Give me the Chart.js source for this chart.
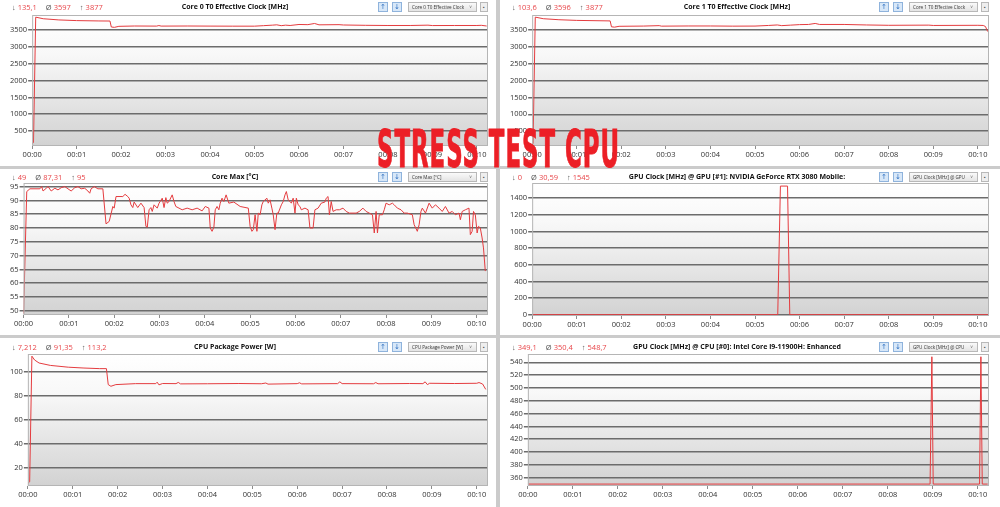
<!DOCTYPE html>
<html>
<head>
<meta charset="utf-8">
<title>Stress Test CPU</title>
<script src="https://cdn.jsdelivr.net/npm/chart.js@4.4.1/dist/chart.umd.min.js"></script>
<style>
html, body { margin: 0; padding: 0; }
body { width: 1000px; height: 507px; background: #cbcbcb; position: relative; overflow: hidden; font-family: 'Open Sans', sans-serif; }
.panel { position: absolute; background: #fff; }
.panel canvas { position: absolute; left: 0; top: 0; }
.stats { position: absolute; left: 12px; font-size: 7.5px; line-height: 10px; color: #e8464a; white-space: nowrap; }
.stats i { font-style: normal; color: #555; margin-right: 2px; }
.stats span { margin-right: 9px; }
.title { position: absolute; left: 0; text-align: center; font-weight: 700; font-size: 7px; line-height: 10px; color: #111; white-space: nowrap; }
.btn { position: absolute; width: 8px; height: 8px; border: 1px solid #8fb3dc; background: #d7e7f8; color: #2d6fc0; font: 7px/8px 'DejaVu Sans', sans-serif; text-align: center; }
.menu { position: absolute; width: 64px; height: 8px; border: 1px solid #b8b8b8; background: linear-gradient(#fafafa, #e4e4e4); font-size: 4.6px; line-height: 8px; color: #333; padding-left: 3px; white-space: nowrap; overflow: hidden; }
.menu b { position: absolute; right: 4px; top: 0; font-weight: 400; color: #666; }
.plus { position: absolute; width: 6px; height: 8px; border: 1px solid #b8b8b8; background: #eee; font: 5px/8px sans-serif; color: #555; text-align: center; }
#stamp { position: absolute; left: 377px; top: 124px; font: bold 51px/51px 'Liberation Sans Narrow', 'DejaVu Sans Condensed', sans-serif; letter-spacing: 2px; color: #ec1f26; -webkit-text-stroke: 0.9px #ec1f26; white-space: nowrap; transform-origin: 0 0; z-index: 5; }
</style>
</head>
<body>
<div id="stamp">STRESS TEST CPU</div>
<script>
// Time axis (minutes)
const timeTicks = [0, 1, 2, 3, 4, 5, 6, 7, 8, 9, 10];
const timeLabels = ['00:00', '00:01', '00:02', '00:03', '00:04', '00:05', '00:06', '00:07', '00:08', '00:09', '00:10'];
const timeEnd = 10.25;

// Value axes
const clockTicks = [500, 1000, 1500, 2000, 2500, 3000, 3500];
const tempTicks = [50, 55, 60, 65, 70, 75, 80, 85, 90, 95];
const gpuTicks = [0, 200, 400, 600, 800, 1000, 1200, 1400];
const powerTicks = [20, 40, 60, 80, 100];
const igpuTicks = [360, 380, 400, 420, 440, 460, 480, 500, 520, 540];

// Series: [minute, value]
const core0Clock = [[0,135],[0.03,160],[0.08,3877],[0.25,3830],[0.6,3795],[1.0,3775],[1.5,3765],[1.75,3762],[1.78,3585],[1.85,3575],[1.95,3605],[2.3,3615],[2.8,3612],[2.85,3628],[2.9,3612],[3.5,3615],[4.0,3612],[4.5,3610],[5.0,3610],[5.2,3625],[5.4,3640],[5.5,3650],[5.6,3625],[5.7,3640],[5.8,3630],[6.0,3660],[6.2,3655],[6.35,3690],[6.45,3650],[6.9,3655],[7.0,3645],[7.5,3635],[8.0,3630],[8.5,3630],[8.9,3640],[9.0,3628],[9.5,3630],[10.0,3630],[10.1,3635],[10.22,3615]];

const core1Clock = [[0,104],[0.02,130],[0.07,3877],[0.25,3830],[0.6,3800],[1.0,3780],[1.5,3770],[1.75,3765],[1.78,3590],[1.85,3580],[1.95,3605],[2.5,3612],[2.85,3625],[2.9,3610],[3.5,3615],[4.0,3615],[4.5,3610],[5.0,3612],[5.3,3630],[5.5,3645],[5.6,3625],[5.8,3640],[6.0,3655],[6.2,3660],[6.35,3690],[6.45,3660],[7.0,3660],[7.5,3645],[8.0,3635],[8.9,3640],[9.0,3630],[10.0,3635],[10.12,3630],[10.17,3600],[10.22,3450]];

const coreMaxTemp = [[0,49],[0.07,93.2],[0.14,94.2],[0.36,94.2],[0.4,95],[0.43,93.4],[0.5,94.4],[0.54,95],[0.61,93.4],[0.69,94.4],[0.76,93.8],[0.83,94.6],[0.91,95],[0.98,94.2],[1.05,93.4],[1.13,94.6],[1.2,95],[1.27,94.2],[1.35,94.4],[1.42,93.4],[1.46,92.6],[1.49,94.2],[1.56,95],[1.64,94.2],[1.75,94.2],[1.82,81.5],[1.89,82.4],[1.97,87.8],[2.0,87.2],[2.04,91.4],[2.19,91.4],[2.24,92.2],[2.3,91.4],[2.33,90.8],[2.37,88.4],[2.41,87.4],[2.44,89.4],[2.52,87.4],[2.59,89],[2.66,87.4],[2.7,80.6],[2.73,80.3],[2.77,86.6],[2.81,87.4],[2.84,86],[2.88,88.4],[2.95,87.2],[2.99,89],[3.06,90.8],[3.1,87.4],[3.14,91],[3.17,89],[3.21,89.6],[3.28,92],[3.32,89.6],[3.36,87.8],[3.43,87.2],[3.5,86.6],[3.61,87.2],[3.72,86.6],[3.83,87.2],[3.94,86.2],[4.01,87.8],[4.09,87.2],[4.12,80],[4.16,78.8],[4.2,80.3],[4.23,86.6],[4.27,87.8],[4.31,86.6],[4.34,89],[4.38,90.8],[4.42,89.6],[4.47,92],[4.53,89],[4.64,89.4],[4.78,87.8],[4.96,87.2],[5.0,80.6],[5.04,78.8],[5.07,79.4],[5.11,84.8],[5.15,78.8],[5.18,85.4],[5.22,84.8],[5.26,88.4],[5.29,89.6],[5.37,90.8],[5.4,89],[5.44,90.2],[5.48,87.2],[5.51,84.8],[5.55,79.4],[5.59,85.4],[5.62,85.4],[5.69,88.4],[5.73,89.6],[5.77,92],[5.8,93.2],[5.84,90.2],[5.88,89.6],[5.91,89],[5.95,90.8],[5.99,85.4],[6.02,90.8],[6.06,88.4],[6.1,87.8],[6.13,86.6],[6.21,87.2],[6.28,86.6],[6.32,80],[6.39,80],[6.43,86.6],[6.5,87.2],[6.57,89],[6.65,89.4],[6.68,90.8],[6.72,91.4],[6.75,84.8],[6.79,89.6],[6.83,86],[6.9,86.6],[6.97,86.6],[7.05,87.2],[7.12,86],[7.19,85.4],[7.34,85.4],[7.41,86],[7.49,87.2],[7.56,86],[7.63,85.4],[7.7,84.8],[7.74,78.2],[7.78,86],[7.81,78.2],[7.85,84.8],[7.92,84.8],[7.96,86.6],[8.0,89],[8.07,88.4],[8.14,89],[8.18,88.4],[8.25,87.2],[8.33,86.6],[8.4,85.4],[8.47,85.4],[8.58,84.8],[8.62,81.2],[8.69,78.8],[8.73,81.2],[8.77,86],[8.8,87.2],[8.87,85.4],[8.95,89],[9.02,87.2],[9.09,88.4],[9.17,87.2],[9.24,86],[9.31,87.8],[9.39,85.4],[9.46,86],[9.53,84.8],[9.61,85.4],[9.64,83],[9.68,86],[9.75,86.6],[9.83,87.2],[9.86,77.6],[9.9,78.8],[9.93,86],[9.97,84.8],[10.01,78.2],[10.04,80.6],[10.08,80],[10.12,76.4],[10.15,72.8],[10.19,64.4]];

const gpuClock = [[0,0],[5.51,0],[5.57,1545],[5.73,1545],[5.78,0],[10.25,0]];

const packagePower = [[0,7.2],[0.04,8.5],[0.09,113.2],[0.15,110],[0.25,107.5],[0.5,105.5],[0.9,104],[1.25,103.3],[1.6,102.8],[1.75,102.8],[1.79,89.5],[1.85,88.1],[1.96,89.5],[2.4,90.3],[2.85,90.3],[2.88,91.5],[2.92,89.3],[3.0,90.4],[3.3,90.3],[3.35,91.3],[3.4,90.1],[4.0,90.2],[4.7,90.4],[5.2,90.2],[5.3,90.8],[5.35,89.9],[6.0,90.3],[6.05,91],[6.1,90.1],[6.9,90.3],[6.95,91.8],[7.0,90.3],[7.7,90.2],[7.75,91.2],[7.8,90.2],[8.5,90.4],[8.8,90.3],[8.85,91.8],[8.9,89.5],[8.95,90.6],[9.5,90.4],[10.0,90.6],[10.05,91.2],[10.13,90],[10.2,85.5]];

const igpuClock = [[0,350],[8.94,350],[8.98,548.7],[9.01,350],[10.04,350],[10.07,548.7],[10.1,350],[10.22,350]];

// Panel layout
const panels = [
  { title: 'Core 0 T0 Effective Clock [MHz]', menu: 'Core 0 T0 Effective Clock', stats: ['135,1', '3597', '3877'],
    series: core0Clock, yTicks: clockTicks, yMin: 59, yMax: 3941,
    box: [0, 0, 496, 166], headY: 7, plotTop: 15, plotBottom: 147, padLeft: 9, padRight: 8 },
  { title: 'Core 1 T0 Effective Clock [MHz]', menu: 'Core 1 T0 Effective Clock', stats: ['103,6', '3596', '3877'],
    series: core1Clock, yTicks: clockTicks, yMin: 60, yMax: 3940,
    box: [500, 0, 500, 166], headY: 7, plotTop: 15, plotBottom: 147, padLeft: 9, padRight: 11 },
  { title: 'Core Max [°C]', menu: 'Core Max [°C]', stats: ['49', '87,31', '95'],
    series: coreMaxTemp, yTicks: tempTicks, yMin: 48.5, yMax: 96.3,
    box: [0, 169, 496, 166], headY: 8, plotTop: 14, plotBottom: 147, padLeft: 9, padRight: 8 },
  { title: 'GPU Clock [MHz] @ GPU [#1]: NVIDIA GeForce RTX 3080 Mobile:', menu: 'GPU Clock [MHz] @ GPU', stats: ['0', '30,59', '1545'],
    series: gpuClock, yTicks: gpuTicks, yMin: -16, yMax: 1582,
    box: [500, 169, 500, 166], headY: 8, plotTop: 14, plotBottom: 148, padLeft: 9, padRight: 11 },
  { title: 'CPU Package Power [W]', menu: 'CPU Package Power [W]', stats: ['7,212', '91,35', '113,2'],
    series: packagePower, yTicks: powerTicks, yMin: 5, yMax: 115,
    box: [0, 338, 496, 169], headY: 9, plotTop: 16, plotBottom: 149, padLeft: 9, padRight: 8 },
  { title: 'GPU Clock [MHz] @ CPU [#0]: Intel Core i9-11900H: Enhanced', menu: 'GPU Clock [MHz] @ CPU', stats: ['349,1', '350,4', '548,7'],
    series: igpuClock, yTicks: igpuTicks, yMin: 347, yMax: 553,
    box: [500, 338, 500, 169], headY: 9, plotTop: 16, plotBottom: 149, padLeft: 9, padRight: 11 }
];

const tickFont = { family: "'Open Sans', sans-serif", size: 7.5 };

// gradient plot background + light frame
const plotFrame = {
  id: 'plotFrame',
  beforeDraw(chart) {
    const { ctx, chartArea: a } = chart;
    const g = ctx.createLinearGradient(0, a.top, 0, a.bottom);
    g.addColorStop(0, '#ffffff');
    g.addColorStop(0.3, '#f8f8f8');
    g.addColorStop(1, '#d2d2d2');
    ctx.save();
    ctx.fillStyle = g;
    ctx.fillRect(a.left, a.top, a.width, a.height);
    ctx.restore();
  },
  afterDraw(chart) {
    const { ctx, chartArea: a } = chart;
    ctx.save();
    ctx.strokeStyle = '#b5b5b5';
    ctx.lineWidth = 1;
    ctx.strokeRect(a.left + 0.5, a.top + 0.5, a.width - 1, a.height - 1);
    ctx.restore();
  }
};

panels.forEach(p => {
  const [x, y, w, h] = p.box;
  const plotRight = w - p.padRight;
  const top = p.headY - 5;
  const el = document.createElement('div');
  el.className = 'panel';
  el.style.cssText = `left:${x}px;top:${y}px;width:${w}px;height:${h}px`;
  el.innerHTML = `
    <canvas width="${w}" height="${h}"></canvas>
    <div class="stats" style="top:${top}px"><i>↓</i><span>${p.stats[0]}</span><i>Ø</i><span>${p.stats[1]}</span><i>↑</i><span>${p.stats[2]}</span></div>
    <div class="title" style="top:${top}px;width:${w - 26}px">${p.title}</div>
    <div class="btn" style="left:${plotRight - 110}px;top:${top}px">↑</div>
    <div class="btn" style="left:${plotRight - 96}px;top:${top}px">↓</div>
    <div class="menu" style="left:${plotRight - 80}px;top:${top}px">${p.menu}<b>˅</b></div>
    <div class="plus" style="left:${plotRight - 8}px;top:${top}px">▪</div>`;
  document.body.appendChild(el);

  new Chart(el.querySelector('canvas'), {
    type: 'line',
    data: {
      datasets: [{
        data: p.series.map(([t, v]) => ({ x: t, y: v })),
        borderColor: '#e43c3f',
        borderWidth: 1,
        pointRadius: 0,
        tension: 0,
        fill: false
      }]
    },
    options: {
      responsive: false,
      animation: false,
      events: [],
      layout: {
        padding: { left: p.padLeft, right: p.padRight, top: p.plotTop, bottom: h - p.plotBottom - 13 }
      },
      plugins: {
        legend: { display: false },
        tooltip: { enabled: false }
      },
      scales: {
        x: {
          type: 'linear',
          min: 0,
          max: timeEnd,
          afterBuildTicks: scale => { scale.ticks = timeTicks.map(v => ({ value: v })); },
          ticks: {
            callback: v => timeLabels[timeTicks.indexOf(v)],
            font: tickFont,
            color: '#333',
            padding: 1,
            autoSkip: false,
            maxRotation: 0
          },
          grid: { drawOnChartArea: false, tickLength: 3, color: '#8c8c8c' },
          border: { display: false }
        },
        y: {
          min: p.yMin,
          max: p.yMax,
          afterBuildTicks: scale => { scale.ticks = p.yTicks.map(v => ({ value: v })); },
          ticks: {
            callback: v => String(v),
            font: tickFont,
            color: '#333',
            padding: 1,
            autoSkip: false
          },
          grid: { color: '#6c6c6c', lineWidth: 1.5, tickLength: 4 },
          border: { display: false }
        }
      }
    },
    plugins: [plotFrame]
  });
});

// squeeze the overlay title into its box
function fitStamp() {
  const stamp = document.getElementById('stamp');
  stamp.style.transform = 'none';
  const r = stamp.getBoundingClientRect();
  stamp.style.transform = `scaleX(${243 / r.width})`;
}
fitStamp();
document.fonts.ready.then(fitStamp);
</script>
</body>
</html>
